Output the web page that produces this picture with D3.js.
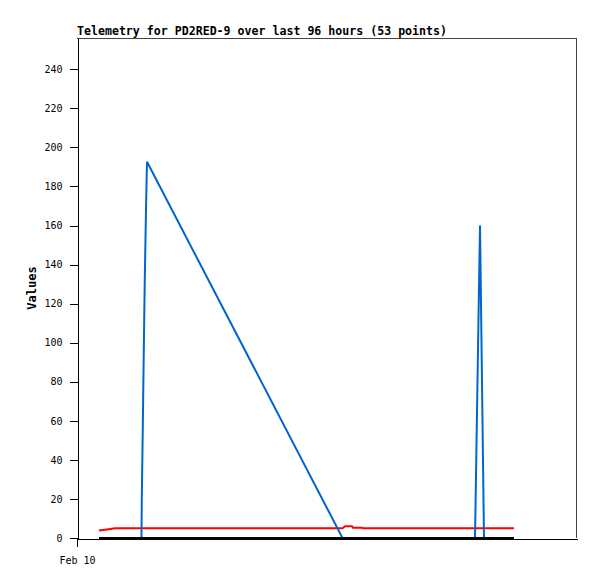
<!DOCTYPE html>
<html><head><meta charset="utf-8">
<script src="https://cdn.jsdelivr.net/npm/d3@7"></script>
<style>body{margin:0;background:#fff;overflow:hidden}</style>
</head><body>
<svg id="c" width="597" height="579"></svg>
<script>
// ---- data ----
const chartTitle = "Telemetry for PD2RED-9 over last 96 hours (53 points)";
const yAxisLabel = "Values";
const startDate = new Date(2024, 1, 10, 0, 0, 0); // Feb 10 00:00
const domainHours = 116;
// hours since Feb 10 00:00 for each of the 53 samples
const hours = [5.10, 6.96, 8.82, 10.67, 12.53, 13.69, 14.50, 14.96, 15.03, 15.24,
  15.47, 15.71, 16.01, 16.24, 61.60, 62.18, 63.80, 64.03, 66.12, 66.35,
  67.98, 69.60, 71.22, 72.85, 74.47, 76.10, 77.72, 79.34, 80.97, 82.59,
  84.22, 85.84, 87.46, 89.09, 90.71, 91.52, 92.34, 92.57, 92.80, 93.03,
  93.26, 93.50, 93.73, 93.96, 94.19, 94.42, 95.00, 95.58, 96.74, 97.90,
  99.06, 100.22, 101.38];
const seriesBlack = [0,0,0,0,0,0,0,0,0,0, 0,0,0,0,0,0,0,0,0,0, 0,0,0,0,0,0,0,0,0,0,
  0,0,0,0,0,0,0,0,0,0, 0,0,0,0,0,0,0,0,0,0, 0,0,0];
const seriesRed = [3.8, 4.4, 5, 5, 5, 5, 5, 5, 5, 5, 5, 5, 5, 5,
  5, 6, 6, 5.3, 5.3,
  5,5,5,5,5,5,5,5,5,5, 5,5,5,5,5,5,5,5,5,5, 5,5,5,5,5,5,5,5,5,5, 5,5,5,5];
const seriesBlue = [0,0,0,0,0,0,0,0, 20, 52.7, 91.6, 130.5, 168.4, 192.6,
  0,0,0,0,0,0,0,0,0,0, 0,0,0,0,0,0,0,0,0,0, 0,0,0,
  32, 64, 96, 128, 160, 120, 80, 40,
  0,0,0,0,0,0,0,0];
const yMax = 256;
const yTicks = [0, 20, 40, 60, 80, 100, 120, 140, 160, 180, 200, 220, 240];
const xTickHours = [0];
const xTickLabels = ["Feb 10"];

// ---- chart ----
const svg = d3.select("#c");
const L = 77, R = 577, T = 38, B = 538;
const toDate = h => new Date(startDate.getTime() + h * 3600e3);
const x = d3.scaleTime().domain([startDate, toDate(domainHours)]).range([L, R]);
const y = d3.scaleLinear().domain([0, yMax]).range([B, T]);
const mono = "'DejaVu Sans Mono', 'Liberation Mono', monospace";

// plot frame (top/right)
svg.append("path")
  .attr("d", `M${L},${T + 0.5}H${R - 0.5}V${B}`)
  .attr("fill", "none").attr("stroke", "#444").attr("stroke-width", 1)
  .attr("shape-rendering", "crispEdges");

const line = d3.line().x((d, i) => x(toDate(hours[i]))).y(d => y(d));
const drawSeries = (vals, color) => svg.append("path")
  .datum(vals).attr("d", line)
  .attr("fill", "none").attr("stroke", color).attr("stroke-width", 2)
  .attr("stroke-linejoin", "miter");
drawSeries(seriesRed, "#ff0000");
drawSeries(seriesBlue, "#0066cc");
drawSeries(seriesBlack, "#000000");

// y axis
const ya = svg.append("g").attr("transform", `translate(${L + 0.5},0)`)
  .call(d3.axisLeft(y).tickValues(yTicks).tickSize(8).tickSizeOuter(0).tickPadding(7).tickFormat(d3.format("d")));
ya.selectAll("path,line").attr("stroke", "#000").attr("shape-rendering", "crispEdges");
ya.selectAll("text").attr("font-family", mono).attr("font-size", 10).attr("fill", "#000");

// x axis
const xa = svg.append("g").attr("transform", `translate(0,${B + 0.5})`)
  .call(d3.axisBottom(x).tickValues(xTickHours.map(toDate)).tickSize(8).tickSizeOuter(0).tickPadding(10)
    .tickFormat((d, i) => xTickLabels[i]));
xa.selectAll("path,line").attr("stroke", "#000").attr("shape-rendering", "crispEdges");
xa.selectAll("text").attr("font-family", mono).attr("font-size", 10).attr("fill", "#000");

// title
svg.append("text").attr("x", L).attr("y", 35)
  .attr("font-family", mono).attr("font-weight", "bold").attr("font-size", 12)
  .attr("textLength", 370).attr("lengthAdjust", "spacingAndGlyphs")
  .text(chartTitle);

// y label
svg.append("text").attr("transform", `translate(36,${(T + B) / 2}) rotate(-90)`)
  .attr("text-anchor", "middle")
  .attr("font-family", mono).attr("font-weight", "bold").attr("font-size", 12)
  .text(yAxisLabel);
</script>
</body></html>
